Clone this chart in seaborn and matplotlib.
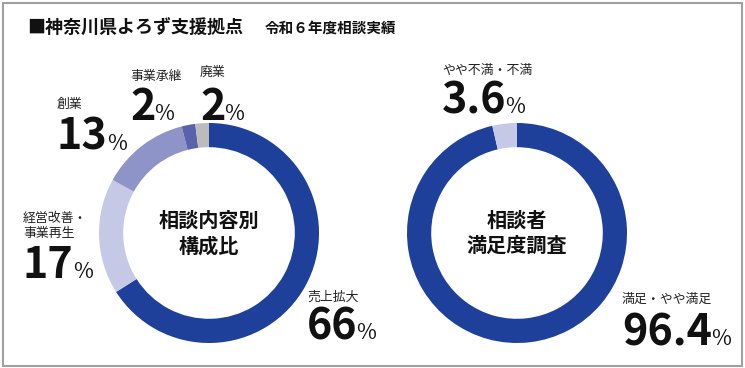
import matplotlib
matplotlib.use("Agg")
import matplotlib.pyplot as plt
import seaborn as sns
from matplotlib.patches import Rectangle

sns.set_theme(style="white")
plt.rcParams['font.family'] = ['Noto Sans CJK JP', 'DejaVu Sans']

# データ
title = '■神奈川県よろず支援拠点'
subtitle = '令和６年度相談実績'

naiyou_center = '相談内容別\n構成比'
naiyou_labels = ['売上拡大', '経営改善・\n事業再生', '創業', '事業承継', '廃業']
naiyou_values = [66, 17, 13, 2, 2]

manzoku_center = '相談者\n満足度調査'
manzoku_labels = ['満足・やや満足', 'やや不満・不満']
manzoku_values = [96.4, 3.6]

# 色
naiyou_colors = ['#1e3f9a', '#c6c9e6', '#8f94c8', '#5a63a9', '#bcbcbc']
manzoku_colors = ['#1e3f9a', '#c6c9e6']

W, H = 745, 368
fig = plt.figure(figsize=(W / 100, H / 100), dpi=100)
fig.patch.set_facecolor('white')


def donut(cx, cy, r, values, colors, center_text):
    ax = fig.add_axes([(cx - r) / W, (H - cy - r) / H, 2 * r / W, 2 * r / H])
    ax.pie(values, colors=colors, startangle=90, counterclock=False,
           wedgeprops=dict(width=0.22, edgecolor='none'))
    ax.set_xlim(-1, 1)
    ax.set_ylim(-1, 1)
    ax.axis('off')
    ax.text(0, 0, center_text, ha='center', va='center', fontsize=14.5,
            fontweight='bold', color='#111111', linespacing=1.25)
    return ax


donut(209, 233, 110, naiyou_values, naiyou_colors, naiyou_center)
donut(517, 233, 110, manzoku_values, manzoku_colors, manzoku_center)

# テキスト用オーバーレイ
ov = fig.add_axes([0, 0, 1, 1])
ov.set_xlim(0, W)
ov.set_ylim(H, 0)
ov.axis('off')

ov.add_patch(Rectangle((3, 3), 739, 363, fill=False, edgecolor='#a0a0a0', linewidth=1.5))
ov.text(27, 27, title, ha='left', va='center', fontsize=13, fontweight='bold', color='#111111')
ov.text(265, 27.5, subtitle, ha='left', va='center', fontsize=10.5, fontweight='bold', color='#111111')


def label(x, ly, by, name, value):
    ov.text(x, ly, name, ha='left', va='center', fontsize=9.3, color='#222222', linespacing=1.15)
    t = ov.text(x, by, f'{value:g}', ha='left', va='baseline', fontsize=31,
                fontweight='bold', color='#111111')
    ov.annotate('%', xy=(1, by), xycoords=(t, 'data'), xytext=(-0.8, 0), textcoords='offset points',
                ha='left', va='baseline', fontsize=15.5, color='#111111')


# 相談内容別
label(307, 297.5, 339, naiyou_labels[0], naiyou_values[0])
label(23, 226, 278, naiyou_labels[1], naiyou_values[1])
label(57, 104.5, 150, naiyou_labels[2], naiyou_values[2])
label(130, 76.5, 120, naiyou_labels[3], naiyou_values[3])
label(200, 72.5, 120, naiyou_labels[4], naiyou_values[4])

# 満足度
label(622, 299, 345, manzoku_labels[0], manzoku_values[0])
label(442, 70.5, 113, manzoku_labels[1], manzoku_values[1])

fig.savefig('out.png', dpi=100, facecolor='white')
